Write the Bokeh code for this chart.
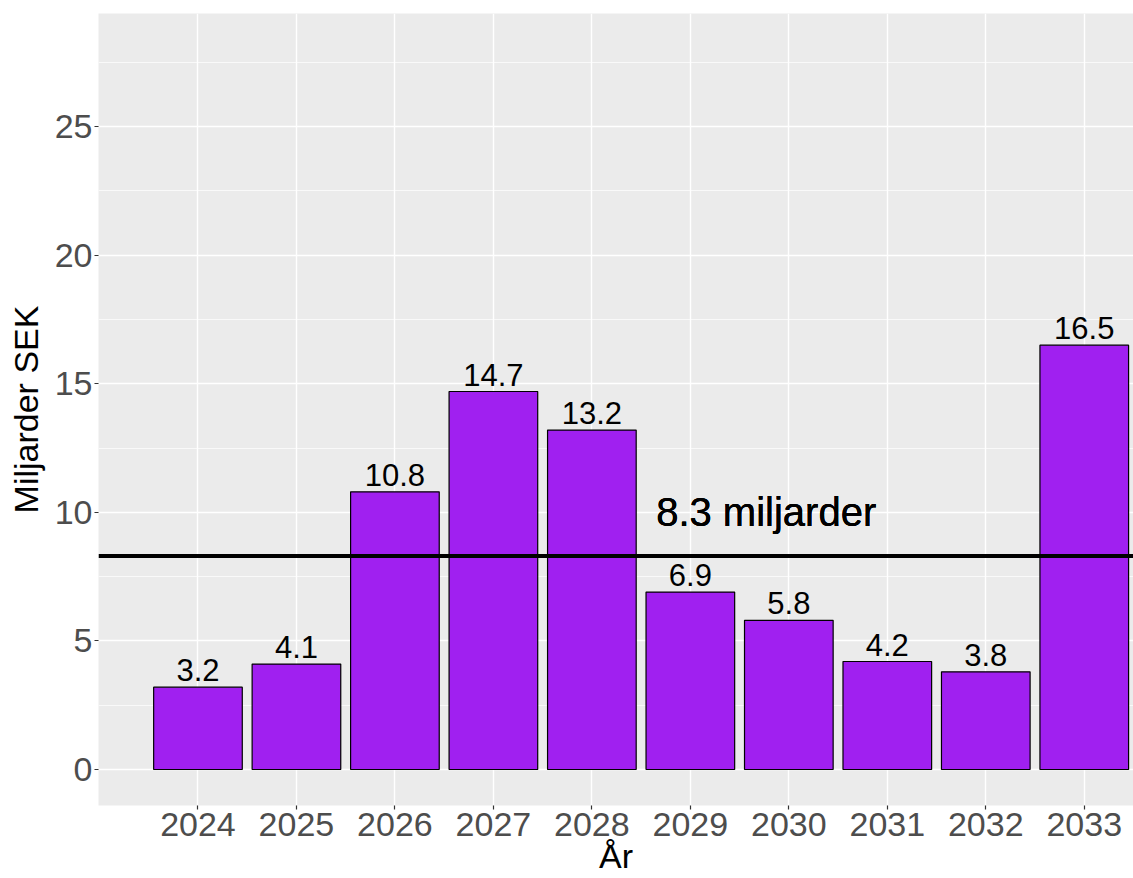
from bokeh.plotting import figure
from bokeh.models import ColumnDataSource, Span, Label, FixedTicker, SingleIntervalTicker, Range1d
from bokeh.embed import file_html
from bokeh.resources import INLINE
from bokeh.core.properties import value

# ---- data ----
years = [2024, 2025, 2026, 2027, 2028, 2029, 2030, 2031, 2032, 2033]
amounts = [3.2, 4.1, 10.8, 14.7, 13.2, 6.9, 5.8, 4.2, 3.8, 16.5]
amount_labels = ["3.2", "4.1", "10.8", "14.7", "13.2", "6.9", "5.8", "4.2", "3.8", "16.5"]
average = 8.3
average_label = "8.3 miljarder"
y_ticks = [0, 5, 10, 15, 20, 25]
x_title = "År"
y_title = "Miljarder SEK"

FONT = "Liberation Sans"
X_LO, X_HI = 2022.99, 2033.5
Y_LO, Y_HI = -1.4, 29.4

src = ColumnDataSource(dict(x=years, top=amounts, lab=amount_labels))

p = figure(width=1133, height=878, output_backend="svg", toolbar_location=None,
           x_range=Range1d(X_LO, X_HI), y_range=Range1d(Y_LO, Y_HI),
           min_border_left=98, min_border_right=0, min_border_top=13, min_border_bottom=73)

p.background_fill_color = "#EBEBEB"
p.border_fill_color = "white"
p.outline_line_color = None

# grid
p.xgrid.ticker = FixedTicker(ticks=years)
p.xgrid.grid_line_color = "white"
p.xgrid.grid_line_width = 1.4
p.ygrid.ticker = SingleIntervalTicker(interval=5, num_minor_ticks=2)
p.ygrid.grid_line_color = "white"
p.ygrid.grid_line_width = 1.4
p.ygrid.minor_grid_line_color = "white"
p.ygrid.minor_grid_line_width = 0.7

# bars
p.vbar(x="x", top="top", bottom=0, width=0.9, source=src,
       fill_color="#A020F0", line_color="black", line_width=1.2)

# value labels
p.text(x="x", y="top", text="lab", source=src, text_align="center",
       text_baseline="middle", y_offset=-17, text_font=value(FONT),
       text_font_size="31px", text_color="black")

# average line
p.add_layout(Span(location=average, dimension="width", line_color="black", line_width=4))
for _ in range(3):
    p.add_layout(Label(x=2029.77, y=10, text=average_label, text_align="center",
                       text_baseline="middle", text_font=FONT, text_font_size="40px",
                       text_color="black"))

# axes
xa = p.xaxis[0]
xa.ticker = FixedTicker(ticks=years)
xa.axis_line_color = None
xa.major_tick_in = 0
xa.major_tick_out = 4
xa.minor_tick_out = 0
xa.minor_tick_in = 0
xa.major_tick_line_color = "#333333"
xa.major_tick_line_width = 1.2
xa.major_label_text_font = FONT
xa.major_label_text_font_size = "34px"
xa.major_label_text_color = "#4D4D4D"
xa.major_label_standoff = 3
xa.axis_label = x_title
xa.axis_label_text_font = FONT
xa.axis_label_text_font_size = "34px"
xa.axis_label_text_font_style = "normal"
xa.axis_label_text_color = "black"
xa.axis_label_standoff = -2

ya = p.yaxis[0]
ya.ticker = FixedTicker(ticks=y_ticks)
ya.axis_line_color = None
ya.major_tick_in = 0
ya.major_tick_out = 4
ya.minor_tick_out = 0
ya.minor_tick_in = 0
ya.major_tick_line_color = "#333333"
ya.major_tick_line_width = 1.2
ya.major_label_text_font = FONT
ya.major_label_text_font_size = "34px"
ya.major_label_text_color = "#4D4D4D"
ya.major_label_standoff = 2
ya.axis_label = y_title
ya.axis_label_text_font = FONT
ya.axis_label_text_font_size = "34px"
ya.axis_label_text_font_style = "normal"
ya.axis_label_text_color = "black"
ya.axis_label_standoff = 7

open("out.html", "w").write(file_html(p, INLINE))
